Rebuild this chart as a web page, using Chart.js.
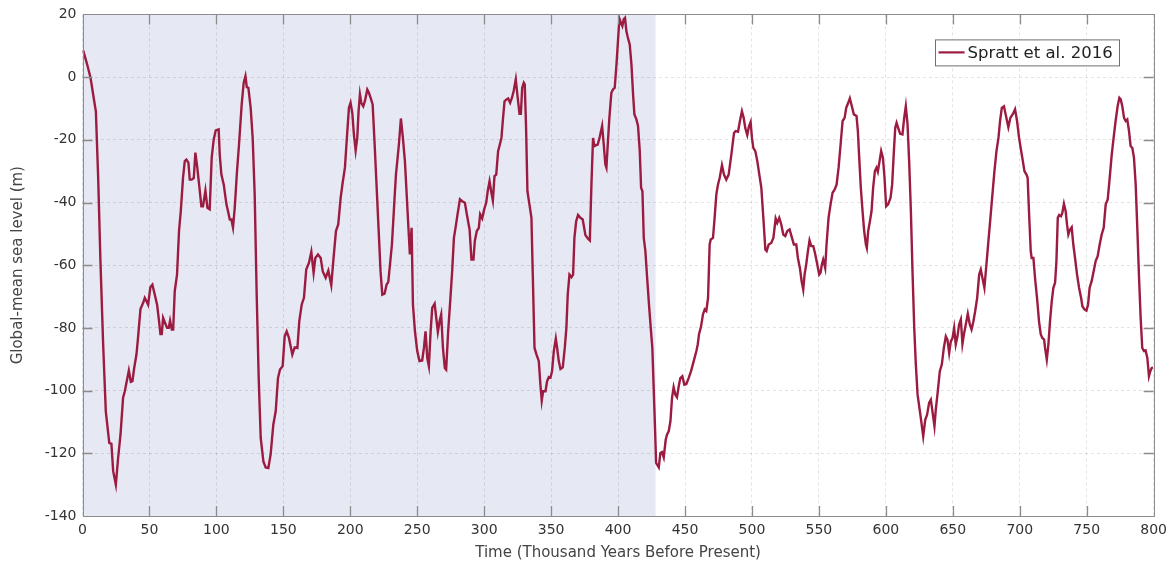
<!DOCTYPE html>
<html><head><meta charset="utf-8">
<script src="https://cdn.jsdelivr.net/npm/chart.js@4.4.1/dist/chart.umd.min.js"></script>
<style>html,body{margin:0;padding:0;background:#fff;}#wrap{width:1173px;height:569px;}</style>
</head><body><div id="wrap"><canvas id="c" width="1173" height="569"></canvas></div>
<script>
// Age in thousand years before present
const ages = [0.5,3.5,6,8.5,10,11.7,13.4,15.4,17.4,20,21.6,22.9,24.9,26.6,28.4,30.3,31.6,34.6,36.1,37.3,38.6,40.3,41.5,43.3,45.3,46.5,47.8,49,50.7,52.2,54,55.7,57.2,58.2,59.2,60.2,62.2,63.2,64.4,65.4,66.7,67.7,68.9,70.6,72.1,73.4,75.1,76.4,77.6,79.1,80.1,81.6,83.1,84.3,85.6,87.1,88.8,90,91.8,93.3,95,96.5,98,99.5,101.7,102.5,103.7,105.5,107.5,108.7,110,111.2,112.4,113.7,115.4,
116.9,118.9,120.4,121.7,122.7,123.9,125.6,127.1,128.6,130.1,131.6,133.1,135.1,136.8,138.8,140.5,142.5,144.3,146,147.5,149.5,151,152.5,154.2,156.7,158.5,160.5,161.9,163.7,165.4,167.1,169.1,170.9,172.6,173.9,175.9,177.9,179.4,181.6,183.6,185.8,187.3,189.3,191,192.8,194.3,196,197.8,199,200.2,201.5,202.7,204,205.2,206.2,207.2,208.2,209.7,210.9,212.7,213.9,215.2,216.7,218.2,219.6,221.1,222.6,223.9,225.6,227.1,228.4,
231.1,232.8,234.1,235.1,236.3,237.8,239.3,240.8,242,243.3,244.5,245.8,246.8,248.3,250,251.7,253.7,255,256.2,257.5,258.7,260,261.2,263,264.2,265.4,266.7,267.9,269.2,270.6,271.6,273.1,274.8,276.1,277.4,278.6,280.1,281.9,283.6,285.6,287.3,289.1,290.5,292,293,294.5,296,297,298.5,300,301.5,302.7,304,305.2,306.5,307.7,309,310.4,311.7,312.9,313.9,315.2,316.7,317.9,319.4,320.9,322.1,323.6,324.9,326.4,327.4,328.4,329.6,330.3,331.3,332.3,333.8,335.3,336.3,337.6,339.1,340.8,342,343,344,345.8,347,348.3,349.5,350.7,352,353.5,354.5,355.7,357,358.7,360.2,361.4,362.4,363.7,365.2,366.4,367.4,368.7,370.1,371.9,373.6,375.6,377.4,378.9,380.1,381.3,382.3,383.6,384.8,386.3,388.1,389.3,390.5,391.3,392.3,393.5,395,396.3,397.5,398.8,400,401,402.2,403.2,404.2,405.2,406.2,407.2,408.7,410,411.2,412.2,413.7,414.9,416.2,417.2,418.2,419.2,420.4,421.7,423.1,424.4,425.6,426.6,427.6,428.4,429.4,430.4,431.6,432.8,434.1,435.6,436.6,437.8,439.1,440.3,441.5,442.8,444,445.3,446.5,448,449.5,451,452.7,454.5,456.5,458.5,459.5,460.5,462,463.4,464.7,465.9,467.2,468.4,469.2,470.9,472.1,473.4,474.6,475.9,477.6,479.1,480.8,482.6,484.6,486.6,487.8,489.6,491,492.5,493.8,495,496.5,497.8,499,500,501,502.5,504,505.5,507,508.5,510,511,512.5,514.4,516,517.7,518.9,520.4,521.9,523.4,524.9,526.4,528.1,529.9,531.3,533.1,534.3,535.8,537.1,538.3,539.3,540.5,541.8,543,544.3,545.8,547.3,548.8,550.2,551.2,552.2,553.2,554.7,555.7,557.2,558.7,560.2,561.7,563.2,564.7,566.2,567.7,569.2,570.4,571.9,573.1,574.6,576.1,578.1,579.1,580.1,581.3,582.6,583.8,585.1,585.8,586.8,588.1,589.3,590.5,591.8,593,594,595.3,596.5,597.8,599,600.2,601.7,603.5,604.7,606,607,608,609.2,610.7,612.4,613.7,614.9,616.2,617.4,618.7,619.9,621.2,622.4,623.7,624.9,626.1,627.9,629.4,630.8,632.3,633.6,634.8,636.3,637.3,638.8,640.3,641.8,643.3,644.8,646,647.3,648.5,649.8,651,652.2,653.5,654.7,656,657.2,658.5,659.7,661.2,662.7,664,665.4,666.7,668.2,669.7,670.9,672.1,673.6,675.1,676.6,678.1,679.6,681.1,682.6,684.1,685.3,686.6,688.2,690,691.5,693,695,696.5,698,699.5,700.7,701.9,703.5,705,705.9,706.9,708.2,708.9,710.2,711.4,712.9,714.4,715.7,716.9,718.2,718.9,720.2,721.4,722.6,723.9,725.1,726.4,727.4,728.4,729.4,730.8,731.8,733,734.3,735.3,736.3,737.6,738.8,740,741.3,742.8,744.3,745.8,746.8,748.3,749.8,751,752.2,753.7,755.2,756.7,758.2,759.7,761.2,762.7,764.2,765.7,767.2,768.7,770.1,771.6,773.1,774.4,775.4,776.6,777.9,779.1,780.3,781.6,782.8,784.1,785.3,786.6,787.8,789.1,790.3,791.5,792.8,794,795.3,796.5,797.5,798.5,799.5];

// Global-mean sea level (m)
const seaLevel = [8.5,4,-0.2,-7,-11,-32,-58.7,-85,-106.6,-116.7,-117,-125.7,-130,-121.5,-114,-102.3,-100.2,-93.6,-97.2,-97,-92.8,-88.5,-83,-74,-72,-70.4,-71.5,-72.6,-67,-66.2,-69.4,-72.6,-77.9,-82,-82,-76.8,-79,-80,-80,-77.7,-80.5,-80.5,-68.3,-63,-49,-42.8,-32,-26.8,-26.3,-27.3,-32.7,-32.7,-32.2,-24.1,-28.4,-34.3,-41.2,-41.2,-36.2,-41.7,-42.2,-25.7,-19.9,-17,-16.7,-24.7,-31,-34.3,-40.6,-42.8,-45.4,-45.4,-48,-41.7,-30,
-21.5,-8.7,-1.8,0.3,-3.2,-3.4,-9.8,-19.4,-37.4,-69.4,-96,-115.1,-122.6,-124.5,-124.7,-120.4,-110.9,-106.6,-96,-93.3,-92.2,-82.7,-81.1,-83.2,-88.5,-86.2,-86.4,-77.9,-72.6,-70.4,-61.4,-59.3,-55.7,-62.4,-57.7,-56.6,-57.7,-61.9,-64,-61.7,-66.4,-58.7,-49.1,-47,-38.5,-33.7,-28.9,-17.2,-9.8,-8.2,-11.4,-18.3,-23.4,-19.4,-10.9,-5.5,-8.2,-9.3,-7.7,-4,-5,-6.6,-8.7,-21.5,-34.3,-48.1,-61.9,-69.4,-69.1,-66.2,-65.3,
-53.4,-40.6,-31.1,-26.8,-21.5,-13.2,-19.4,-26.8,-36.4,-47,-56.6,-48.1,-72.6,-81.1,-87.4,-90.6,-90.4,-86.4,-81.1,-89.6,-92.2,-81.1,-73.6,-72.3,-76.8,-81.3,-77.9,-75.7,-86.4,-92.8,-93.3,-81.1,-70.4,-61.9,-51.3,-48.1,-43.8,-39,-39.6,-40.1,-44.4,-48.6,-58.2,-58.2,-52.3,-49.1,-48.1,-43.8,-45.1,-42.2,-40.1,-36.2,-33.2,-36.4,-39.4,-31.6,-31.1,-23.6,-21.5,-19.4,-14,-7.7,-7.1,-6.8,-8.2,-6.4,-4.3,-0.7,-6.1,-11.7,-11.7,-3.4,-1.8,-2.3,-16.2,-36.4,-40.6,-44.9,-63,-86.4,-88.5,-90.6,-98.1,-103.2,-100.2,-100.2,-97,-95.7,-95.9,-93.8,-87.4,-83.4,-86.4,-90.6,-93.1,-92.6,-86.4,-80,-69.4,-63,-63.8,-63,-51.3,-46,-44,-44.9,-45.4,-50.4,-51.5,-52.1,-34.3,-19.4,-22,-21.7,-21.5,-19.1,-15.6,-21.5,-27.9,-28.9,-21.5,-13,-5,-3.9,-3.4,4,12,18.7,17.3,16.3,18.4,18.9,14.7,12.8,10.4,4,-5.5,-11.9,-13.5,-15.6,-23.6,-35.3,-36.4,-51.3,-55.5,-64,-72.6,-80,-86.4,-99.1,-111.9,-123.1,-123.8,-124.5,-119.9,-119.6,-121.3,-115.6,-114,-113,-109.8,-102.3,-98.9,-101.3,-102.1,-98.6,-96,-95.4,-98.1,-97.9,-96,-93.8,-90.6,-87.4,-85.3,-81.9,-79.5,-75.7,-74.1,-74.6,-70.4,-53.4,-51.8,-51.3,-44.9,-37.4,-34.3,-32.1,-28.1,-31.1,-32.7,-31.1,-24.7,-17.8,-17.2,-17.4,-14,-10.9,-13,-16.2,-18.5,-15.6,-14.3,-19.4,-22.6,-23.6,-26.8,-31.1,-35.3,-44.9,-55,-55.5,-53.4,-52.9,-51.3,-45.1,-46.5,-44.9,-47,-50.2,-50.7,-49.1,-48.6,-51.3,-53.4,-53.4,-57.7,-60.9,-65.1,-67.8,-63,-59.8,-55.5,-52.1,-53.9,-53.9,-56.6,-59.8,-63,-62.4,-59.8,-58.2,-60.9,-53.4,-44.9,-40.6,-36.9,-35.9,-34.3,-28.9,-21.5,-14,-13,-9.8,-8.2,-6.8,-9.3,-11.9,-12.4,-17.2,-25.7,-35.3,-42.8,-49.1,-53.4,-54.5,-49.1,-46,-42.8,-35.3,-30,-28.9,-30.2,-26.8,-23.6,-25.7,-32.1,-41.2,-40.6,-38.5,-34.3,-23.6,-16.2,-14.6,-16.2,-18.1,-18.3,-13,-9.3,-15.1,-26.8,-42.8,-61.9,-80,-91.7,-101.3,-105,-108.7,-114.6,-109.3,-107.7,-103.9,-102.9,-106.6,-111.4,-106.1,-100.2,-93.8,-91.7,-86.4,-82.7,-83.7,-88,-84.3,-83.2,-80,-85.3,-82.7,-78.9,-77.3,-85.1,-81.6,-78.9,-75.5,-78.9,-80.5,-77.9,-74.7,-70.4,-63,-61.4,-64,-67.2,-59.8,-52.3,-44.9,-37.4,-30,-23.6,-19.4,-14,-9.8,-9.3,-13,-16,-13,-11.7,-10.3,-14,-19.4,-22.6,-25.7,-30,-31.1,-32.1,-42.8,-55.5,-57.7,-57.7,-64,-70.4,-77.9,-82.1,-83.2,-83.7,-86.4,-90.1,-85.3,-77.9,-71.5,-67.2,-65.6,-58.7,-44.9,-44,-44.4,-43.3,-40.4,-42.8,-47,-50.2,-48.6,-47.9,-53.4,-57.7,-63,-67.2,-70.4,-73.1,-74.1,-74.5,-72.6,-67.2,-65.1,-61.9,-58.7,-57.1,-53.4,-50.2,-48.1,-40.6,-39,-32.1,-24.7,-19.4,-14,-9.3,-6.6,-7.1,-9.3,-13,-14,-13.5,-17.2,-22,-22.6,-25.7,-34.3,-48.1,-64,-76.8,-86.4,-87.4,-87.2,-89.6,-95.4,-93.8,-92.8,-92.6];

const seriesLabel = 'Spratt et al. 2016';
const shadedAges = [0, 428];
const xTickValues = [0,50,100,150,200,250,300,350,400,450,500,550,600,650,700,750,800];
const yTickValues = [20,0,-20,-40,-60,-80,-100,-120,-140];
const xTitle = 'Time (Thousand Years Before Present)';
const yTitle = 'Global-mean sea level (m)';

const FONT = "'DejaVu Sans', 'Open Sans', sans-serif";
const LINE_COLOR = '#9c1b40';

const decorPlugin = {
  id: 'decor',
  beforeDraw(chart) {
    const {ctx, chartArea: a, scales: {x}} = chart;
    const x0 = x.getPixelForValue(shadedAges[0]);
    const x1 = x.getPixelForValue(shadedAges[1]);
    ctx.save();
    ctx.fillStyle = '#e6e9f3';
    ctx.fillRect(x0, a.top, x1 - x0, a.bottom - a.top);
    ctx.restore();
  },
  afterDatasetsDraw(chart) {
    const {ctx, chartArea: a, scales: {x, y}} = chart;
    ctx.save();
    ctx.strokeStyle = '#8c8c8c';
    ctx.lineWidth = 1.3;
    const tl = 10;
    ctx.beginPath();
    xTickValues.forEach(v => {
      const px = Math.round(x.getPixelForValue(v)) + 0.5;
      if (v === 0 || v === 800) return;
      ctx.moveTo(px, a.bottom); ctx.lineTo(px, a.bottom - tl);
      ctx.moveTo(px, a.top); ctx.lineTo(px, a.top + tl);
    });
    yTickValues.forEach(v => {
      const py = Math.round(y.getPixelForValue(v)) + 0.5;
      if (v === 20 || v === -140) return;
      ctx.moveTo(a.left, py); ctx.lineTo(a.left + tl, py);
      ctx.moveTo(a.right, py); ctx.lineTo(a.right - tl, py);
    });
    ctx.stroke();
    ctx.lineWidth = 1;
    ctx.strokeRect(Math.round(a.left) + 0.5, Math.round(a.top) + 0.5,
                   Math.round(a.right - a.left), Math.round(a.bottom - a.top));
    // legend
    ctx.font = '16.5px ' + FONT;
    const tw = ctx.measureText(seriesLabel).width;
    const right = a.right - 35, top = a.top + 25, h = 26;
    const w = 4 + 26 + 3 + tw + 6;
    const left = right - w;
    ctx.fillStyle = '#fff';
    ctx.fillRect(left, top, w, h);
    ctx.strokeStyle = '#6e6e6e';
    ctx.strokeRect(Math.round(left) + 0.5, top + 0.5, Math.round(w), h);
    ctx.strokeStyle = LINE_COLOR;
    ctx.lineWidth = 2.2;
    ctx.beginPath();
    ctx.moveTo(left + 4, top + h / 2); ctx.lineTo(left + 30, top + h / 2);
    ctx.stroke();
    ctx.fillStyle = '#222';
    ctx.textBaseline = 'middle';
    ctx.textAlign = 'left';
    ctx.fillText(seriesLabel, left + 33, top + h / 2 + 1);
    ctx.restore();
  }
};

new Chart(document.getElementById('c'), {
  type: 'line',
  data: {
    datasets: [{
      label: seriesLabel,
      data: ages.map((t, i) => ({x: t, y: seaLevel[i]})),
      borderColor: LINE_COLOR,
      borderWidth: 2.4,
      pointRadius: 0,
      tension: 0,
      fill: false
    }]
  },
  options: {
    responsive: false,
    animation: false,
    devicePixelRatio: 1,
    layout: {padding: {top: 14, right: 16, left: 0, bottom: 0}},
    plugins: {legend: {display: false}, tooltip: {enabled: false}},
    scales: {
      x: {
        type: 'linear', min: 0, max: 800,
        afterFit: s => { s.height = 53; },
        afterBuildTicks: s => { s.ticks = xTickValues.map(v => ({value: v})); },
        ticks: {font: {family: FONT, size: 14}, color: '#333', padding: 6, maxRotation: 0, autoSkip: false},
        grid: {color: 'rgba(0,0,0,0.11)', lineWidth: 1, drawTicks: false},
        border: {display: false, dash: [3, 3]},
        title: {display: true, text: xTitle, font: {family: FONT, size: 15}, color: '#444', padding: {top: 0, bottom: 7}}
      },
      y: {
        type: 'linear', min: -140, max: 20,
        afterFit: s => { s.width = 82.5; },
        afterBuildTicks: s => { s.ticks = yTickValues.slice().reverse().map(v => ({value: v})); },
        ticks: {font: {family: FONT, size: 14}, color: '#333', padding: 6, autoSkip: false},
        grid: {color: 'rgba(0,0,0,0.11)', lineWidth: 1, drawTicks: false},
        border: {display: false, dash: [3, 3]},
        title: {display: true, text: yTitle, font: {family: FONT, size: 15}, color: '#444', padding: {top: 9, bottom: 0}}
      }
    }
  },
  plugins: [decorPlugin]
});
</script></body></html>
